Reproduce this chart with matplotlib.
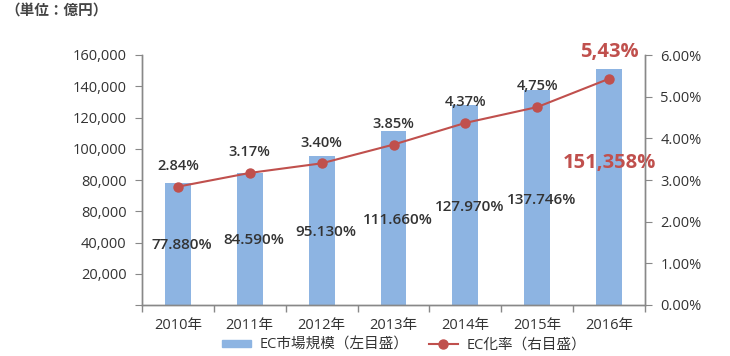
import matplotlib.pyplot as plt
from matplotlib.patches import Patch
from matplotlib.lines import Line2D

plt.rcParams['font.family'] = ['Open Sans', 'Noto Sans CJK JP', 'DejaVu Sans']

years = ["2010年", "2011年", "2012年", "2013年", "2014年", "2015年", "2016年"]
market = [77880, 84590, 95130, 111660, 127970, 137746, 151358]
rate = [2.84, 3.17, 3.40, 3.85, 4.37, 4.75, 5.43]
market_labels = ["77.880%", "84.590%", "95.130%", "111.660%", "127.970%", "137.746%", "151,358%"]
rate_labels = ["2.84%", "3.17%", "3.40%", "3.85%", "4,37%", "4,75%", "5,43%"]
left_ticks = [0, 20000, 40000, 60000, 80000, 100000, 120000, 140000, 160000]
left_ticklabels = ["", "20,000", "40,000", "80,000", "80,000", "100,000", "120,000", "140,000", "160,000"]
right_ticks = [0, 1, 2, 3, 4, 5, 6]
right_ticklabels = ["0.00%", "1.00%", "2.00%", "3.00%", "4.00%", "5.00%", "6.00%"]

bar_col = "#8db4e2"
line_col = "#c0504d"
txt = "#333333"
axis_col = "#888888"

fig = plt.figure(figsize=(7.3, 3.56), dpi=100)
ax = fig.add_axes([142/730, 1-305/356, (645-142)/730, 250/356])
ax2 = ax.twinx()

x = list(range(len(years)))
ax.bar(x, market, width=0.36, color=bar_col, zorder=2)
ax.set_xlim(-0.5, len(years) - 0.5)
ax.set_ylim(0, 160000)
ax.set_yticks(left_ticks)
ax.set_yticklabels(left_ticklabels)
ax.set_xticks(x)
ax.set_xticklabels(years)
ax.set_xticks([i - 0.5 for i in range(len(years) + 1)], minor=True)
ax.tick_params(axis='x', which='major', length=0, pad=9, labelsize=10.5, labelcolor=txt)
ax.tick_params(axis='x', which='minor', length=5, color=axis_col, width=1)
ax.tick_params(axis='y', length=5, color=axis_col, labelsize=10.5, labelcolor=txt, pad=6)

ax2.plot(x, rate, color=line_col, lw=1.5, marker='o', ms=6.5, zorder=3)
ax2.set_ylim(0, 6)
ax2.set_yticks(right_ticks)
ax2.set_yticklabels(right_ticklabels)
ax2.tick_params(axis='y', length=5, color=axis_col, labelsize=10.5, labelcolor=txt, pad=6)

for a in (ax, ax2):
    a.spines['top'].set_visible(False)
    for s in ('left', 'right', 'bottom'):
        a.spines[s].set_color(axis_col)
        a.spines[s].set_linewidth(1)

# bar value labels
for i, (v, lab) in enumerate(zip(market, market_labels)):
    if i == len(market) - 1:
        ax.text(i, v * 0.6, lab, ha='center', va='center', fontsize=14.5,
                fontweight='bold', color=line_col, zorder=5)
    else:
        ax.text(i + 0.06, v * 0.49, lab, ha='center', va='center', fontsize=11,
                fontweight='semibold', color=txt, zorder=5)

# rate labels
for i, (r, lab) in enumerate(zip(rate, rate_labels)):
    if i == len(rate) - 1:
        ax2.annotate(lab, (i, r), xytext=(0, 19), textcoords='offset points',
                     ha='center', va='center', fontsize=14.5, fontweight='bold', color=line_col)
    else:
        ax2.annotate(lab, (i, r), xytext=(0, 15), textcoords='offset points',
                     ha='center', va='center', fontsize=10.5, fontweight='semibold', color=txt)

fig.text(5/730, 1-12/356, "（単位：億円）", fontsize=10.5, fontweight='bold', color="#444444",
         va='center', ha='left')

handles = [Patch(color=bar_col, label="EC市場規模（左目盛）"),
           Line2D([0], [0], color=line_col, lw=1.5, marker='o', ms=6.5, label="EC化率（右目盛）")]
leg = fig.legend(handles=handles, loc='center', bbox_to_anchor=(404/730, 1-345/356), ncol=2,
                 frameon=False, fontsize=10.5, handlelength=2.0, handleheight=0.4,
                 columnspacing=1.4, handletextpad=0.6)
for t in leg.get_texts():
    t.set_color(txt)

fig.savefig("out.png", dpi=100)
